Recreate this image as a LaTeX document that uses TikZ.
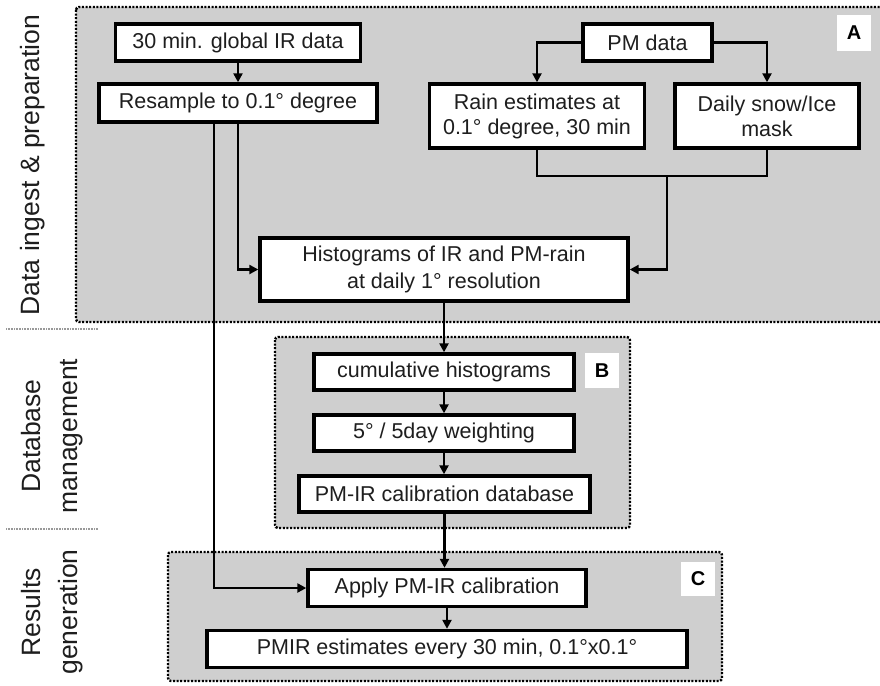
\documentclass[tikz,border=0pt]{standalone}
\usepackage{fontspec}
\setmainfont{Liberation Sans}
\usetikzlibrary{arrows.meta}
\definecolor{panelgray}{RGB}{207,207,207}
\definecolor{txt}{RGB}{30,30,30}
\tikzset{
  panel/.style={fill=panelgray, draw=black, line width=2.4pt, dash pattern=on 2pt off 1.6pt, rounded corners=3pt},
  box/.style={draw=black, fill=white, line width=3.4pt, inner sep=0pt, align=center, text=txt,
    font=\fontsize{21.5}{25}\selectfont},
  tag/.style={fill=white, inner sep=0pt, font=\fontsize{20}{20}\selectfont\bfseries, text=black},
  side/.style={rotate=90, align=center, text=txt, font=\fontsize{26.5}{37}\selectfont},
  conn/.style={line width=2.8pt, draw=black},
  arr/.style={conn, -{Triangle[length=9pt,width=9pt]}},
  sep/.style={draw=gray!80, line width=1.2pt, dash pattern=on 1pt off 0.6pt}
}
\begin{document}
\begin{tikzpicture}[x=1pt,y=-1pt]
\useasboundingbox (0,0) rectangle (880,685);
% panels
\fill[white] (0,0) rectangle (880,685);
\path[panel] (76,7) rectangle (890,322);
\path[panel] (275,337) rectangle (630,528);
\path[panel] (168,552) rectangle (722,681);
% side labels
\node[side] (lA) at (33,165) {Data ingest \& preparation};
\node[side] (lB) at (52,436) {Database\\management};
\node[side] (lC) at (52,612) {Results\\generation};
\draw[sep] (6,329) -- (98,329);
\draw[sep] (6,529) -- (98,529);
% tags
\node[tag, minimum width=34pt, minimum height=36pt] (tA) at (854,33) {A};
\node[tag, minimum width=34pt, minimum height=35pt] (tB) at (602,370.5) {B};
\node[tag, minimum width=34pt, minimum height=34pt] (tC) at (698,579) {C};
% boxes
\node[box, minimum width=245pt, minimum height=37pt] (ir) at (238,42.5) {30 min. global IR data};
\node[box, minimum width=278pt, minimum height=38pt] (rs) at (238,103) {Resample to 0.1° degree};
\node[box, minimum width=129pt, minimum height=37pt] (pm) at (647.5,42.5) {PM data};
\node[box, minimum width=215pt, minimum height=64pt] (rain) at (537,116) {Rain estimates at\\0.1° degree, 30 min};
\node[box, minimum width=184pt, minimum height=64pt] (snow) at (767,116) {Daily snow/Ice\\mask};
\node[box, minimum width=368pt, minimum height=63pt, font=\fontsize{21.5}{27}\selectfont] (hist) at (444,269.5) {Histograms of IR and PM-rain\\at daily 1° resolution};
\node[box, minimum width=260pt, minimum height=36pt] (cum) at (444,372) {cumulative histograms};
\node[box, minimum width=260pt, minimum height=36pt] (wt) at (444,433) {5° / 5day weighting};
\node[box, minimum width=291pt, minimum height=36pt] (db) at (444.5,494) {PM-IR calibration database};
\node[box, minimum width=278pt, minimum height=37pt] (apply) at (447,588) {Apply PM-IR calibration};
\node[box, minimum width=480pt, minimum height=37pt] (pmir) at (447,649) {PMIR estimates every 30 min, 0.1°x0.1°};
% helper coordinates
\coordinate (rsL) at (214,0);
\coordinate (j) at (667,176);
% connectors
\draw[arr] (ir.south) -- (ir.south |- rs.north);
\draw[arr] (rs.south -| rsL) |- (apply.west);
\draw[arr] (rs.south) |- (hist.west);
\draw[arr] (pm.west) -| (rain.north);
\draw[arr] (pm.east) -| (snow.north);
\draw[conn] (rain.south) |- (j) -| (snow.south);
\draw[arr] (j) |- (hist.east);
\draw[arr] (hist.south) -- (hist.south |- cum.north);
\draw[arr] (cum.south) -- (cum.south |- wt.north);
\draw[arr] (wt.south) -- (wt.south |- db.north);
\draw[arr] (db.south) -- (db.south |- apply.north);
\draw[arr] (apply.south) -- (apply.south |- pmir.north);
\end{tikzpicture}
\end{document}
